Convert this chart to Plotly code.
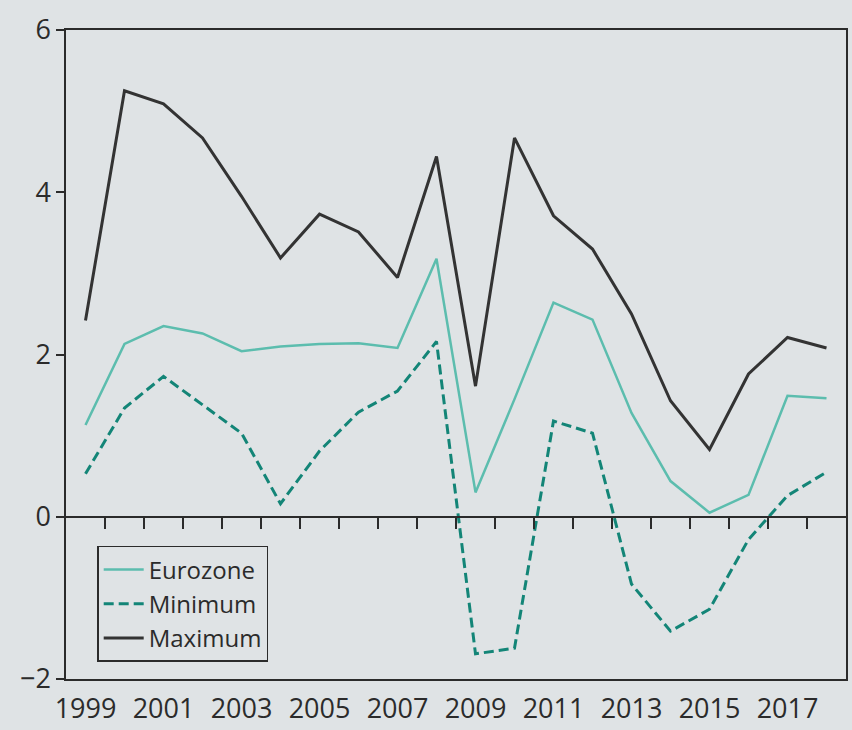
import plotly.graph_objects as go

years = list(range(1999, 2019))
eurozone = [1.13, 2.13, 2.35, 2.26, 2.04, 2.10, 2.13, 2.14, 2.08, 3.18,
            0.30, 1.45, 2.64, 2.43, 1.28, 0.44, 0.05, 0.27, 1.49, 1.46]
minimum = [0.53, 1.34, 1.73, 1.38, 1.03, 0.16, 0.81, 1.29, 1.55, 2.16,
           -1.69, -1.62, 1.18, 1.03, -0.83, -1.41, -1.14, -0.28, 0.26, 0.55]
maximum = [2.42, 5.25, 5.09, 4.67, 3.95, 3.19, 3.73, 3.51, 2.95, 4.44,
           1.61, 4.67, 3.71, 3.30, 2.50, 1.43, 0.83, 1.76, 2.21, 2.08]

x_label_years = years[::2]
x_labels = [str(y) for y in x_label_years]
y_tick_vals = [-2, 0, 2, 4, 6]
y_tick_text = ["\u22122", "0", "2", "4", "6"]

BG = "#dfe3e5"
INK = "#2b2b2b"
FONT = "Open Sans"

fig = go.Figure()
fig.add_trace(go.Scatter(x=years, y=eurozone, mode="lines", name="Eurozone",
                         line=dict(color="#5cbdae", width=2.5)))
fig.add_trace(go.Scatter(x=years, y=minimum, mode="lines", name="Minimum",
                         line=dict(color="#138577", width=3, dash="10px,5px")))
fig.add_trace(go.Scatter(x=years, y=maximum, mode="lines", name="Maximum",
                         line=dict(color="#333333", width=3)))
# invisible trace carrying the zero-line axis with year-boundary ticks
fig.add_trace(go.Scatter(x=years, y=[0] * len(years), xaxis="x2", mode="lines",
                         line=dict(width=0), showlegend=False, hoverinfo="skip"))

xr = [years[0] - 0.5, years[-1] + 0.5]
fig.update_layout(
    width=852, height=730,
    margin=dict(l=66, r=4, t=30, b=44),
    paper_bgcolor=BG, plot_bgcolor=BG,
    font=dict(family=FONT, color=INK, size=26),
    showlegend=True,
    legend=dict(x=0.04, y=0.205, xanchor="left", yanchor="top",
                bgcolor="rgba(0,0,0,0)", bordercolor=INK, borderwidth=1.5,
                font=dict(size=24, family=FONT, color=INK),
                tracegroupgap=0, itemwidth=40),
    xaxis=dict(range=xr, tickmode="array", tickvals=x_label_years, ticktext=x_labels,
               showgrid=False, zeroline=False, showline=True, mirror=True,
               linecolor=INK, linewidth=1.5, ticks="outside", ticklen=5,
               tickcolor="rgba(0,0,0,0)", tickfont=dict(size=27)),
    xaxis2=dict(range=xr, overlaying="x", anchor="free", position=0.25,
                showline=True, linecolor=INK, linewidth=1.5, showgrid=False,
                zeroline=False, tickmode="array",
                tickvals=[y + 0.5 for y in years[:-1]], showticklabels=False,
                ticks="outside", ticklen=11, tickwidth=1.5, tickcolor=INK),
    yaxis=dict(range=[-2, 6], tickmode="array", tickvals=y_tick_vals,
               ticktext=y_tick_text, showgrid=False, zeroline=False,
               showline=True, mirror=True, linecolor=INK, linewidth=1.5,
               ticks="outside", ticklen=8, tickwidth=1.5, tickcolor=INK,
               tickfont=dict(size=27)),
)

fig.write_html("out.html")
